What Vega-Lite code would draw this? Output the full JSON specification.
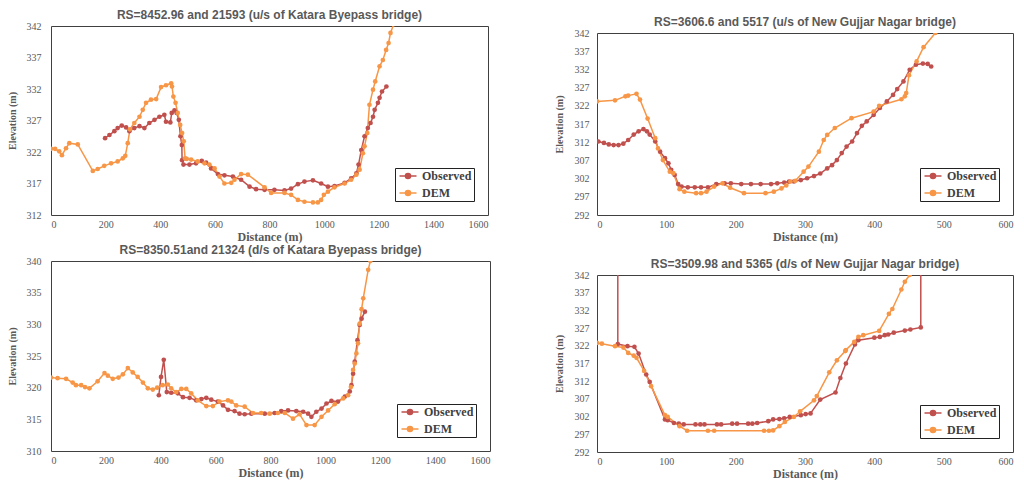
{
  "$schema": "https://vega.github.io/schema/vega-lite/v6.json",
  "background": "white",
  "padding": {"left": 6, "top": 8, "right": 0, "bottom": 0},
  "datasets": {
    "p1": [
      {"d":198,"e":324.2,"s":"Observed"},{"d":214,"e":324.7,"s":"Observed"},{"d":232,"e":325.3,"s":"Observed"},{"d":244,"e":325.8,"s":"Observed"},{"d":259,"e":326.2,"s":"Observed"},{"d":275,"e":325.9,"s":"Observed"},{"d":287,"e":325.3,"s":"Observed"},{"d":305,"e":325.8,"s":"Observed"},{"d":324,"e":326.1,"s":"Observed"},{"d":342,"e":325.8,"s":"Observed"},{"d":360,"e":326.6,"s":"Observed"},{"d":379,"e":327.1,"s":"Observed"},{"d":397,"e":327.6,"s":"Observed"},{"d":415,"e":327.9,"s":"Observed"},{"d":421,"e":326.8,"s":"Observed"},{"d":437,"e":326.7,"s":"Observed"},{"d":442,"e":328.2,"s":"Observed"},{"d":452,"e":328.6,"s":"Observed"},{"d":460,"e":328.2,"s":"Observed"},{"d":468,"e":327.1,"s":"Observed"},{"d":474,"e":324.5,"s":"Observed"},{"d":479,"e":323.1,"s":"Observed"},{"d":480,"e":320.7,"s":"Observed"},{"d":485,"e":320.0,"s":"Observed"},{"d":507,"e":320.0,"s":"Observed"},{"d":531,"e":320.2,"s":"Observed"},{"d":552,"e":320.6,"s":"Observed"},{"d":568,"e":320.3,"s":"Observed"},{"d":586,"e":319.4,"s":"Observed"},{"d":611,"e":318.5,"s":"Observed"},{"d":635,"e":318.3,"s":"Observed"},{"d":666,"e":318.1,"s":"Observed"},{"d":696,"e":317.6,"s":"Observed"},{"d":727,"e":316.5,"s":"Observed"},{"d":751,"e":316.1,"s":"Observed"},{"d":782,"e":316.0,"s":"Observed"},{"d":818,"e":316.0,"s":"Observed"},{"d":855,"e":315.9,"s":"Observed"},{"d":879,"e":316.2,"s":"Observed"},{"d":904,"e":316.9,"s":"Observed"},{"d":928,"e":317.3,"s":"Observed"},{"d":959,"e":317.5,"s":"Observed"},{"d":989,"e":317.0,"s":"Observed"},{"d":1014,"e":316.5,"s":"Observed"},{"d":1038,"e":316.6,"s":"Observed"},{"d":1075,"e":317.1,"s":"Observed"},{"d":1099,"e":317.8,"s":"Observed"},{"d":1118,"e":318.6,"s":"Observed"},{"d":1126,"e":320.0,"s":"Observed"},{"d":1136,"e":322.3,"s":"Observed"},{"d":1148,"e":324.5,"s":"Observed"},{"d":1160,"e":325.8,"s":"Observed"},{"d":1170,"e":326.6,"s":"Observed"},{"d":1179,"e":327.6,"s":"Observed"},{"d":1185,"e":328.7,"s":"Observed"},{"d":1197,"e":329.8,"s":"Observed"},{"d":1203,"e":330.6,"s":"Observed"},{"d":1212,"e":331.6,"s":"Observed"},{"d":1228,"e":332.4,"s":"Observed"},
      {"d":0,"e":322.5,"s":"DEM"},{"d":15,"e":322.5,"s":"DEM"},{"d":30,"e":322.1,"s":"DEM"},{"d":40,"e":321.5,"s":"DEM"},{"d":55,"e":322.6,"s":"DEM"},{"d":67,"e":323.4,"s":"DEM"},{"d":98,"e":323.2,"s":"DEM"},{"d":153,"e":319.0,"s":"DEM"},{"d":171,"e":319.3,"s":"DEM"},{"d":195,"e":319.8,"s":"DEM"},{"d":220,"e":320.2,"s":"DEM"},{"d":244,"e":320.5,"s":"DEM"},{"d":263,"e":321.0,"s":"DEM"},{"d":272,"e":321.4,"s":"DEM"},{"d":281,"e":323.4,"s":"DEM"},{"d":289,"e":325.6,"s":"DEM"},{"d":305,"e":326.6,"s":"DEM"},{"d":324,"e":327.6,"s":"DEM"},{"d":336,"e":328.7,"s":"DEM"},{"d":348,"e":329.8,"s":"DEM"},{"d":366,"e":330.3,"s":"DEM"},{"d":385,"e":330.4,"s":"DEM"},{"d":403,"e":332.3,"s":"DEM"},{"d":421,"e":332.6,"s":"DEM"},{"d":440,"e":332.9,"s":"DEM"},{"d":443,"e":332.4,"s":"DEM"},{"d":448,"e":330.8,"s":"DEM"},{"d":456,"e":329.8,"s":"DEM"},{"d":464,"e":328.2,"s":"DEM"},{"d":473,"e":326.3,"s":"DEM"},{"d":480,"e":325.0,"s":"DEM"},{"d":486,"e":323.7,"s":"DEM"},{"d":491,"e":321.0,"s":"DEM"},{"d":497,"e":320.9,"s":"DEM"},{"d":513,"e":320.8,"s":"DEM"},{"d":537,"e":320.5,"s":"DEM"},{"d":562,"e":320.2,"s":"DEM"},{"d":580,"e":320.0,"s":"DEM"},{"d":599,"e":319.4,"s":"DEM"},{"d":617,"e":318.1,"s":"DEM"},{"d":635,"e":317.0,"s":"DEM"},{"d":660,"e":317.1,"s":"DEM"},{"d":672,"e":317.6,"s":"DEM"},{"d":696,"e":318.5,"s":"DEM"},{"d":721,"e":318.4,"s":"DEM"},{"d":782,"e":316.4,"s":"DEM"},{"d":806,"e":315.5,"s":"DEM"},{"d":855,"e":315.5,"s":"DEM"},{"d":879,"e":315.2,"s":"DEM"},{"d":904,"e":314.4,"s":"DEM"},{"d":928,"e":314.1,"s":"DEM"},{"d":959,"e":314.0,"s":"DEM"},{"d":977,"e":314.0,"s":"DEM"},{"d":989,"e":314.4,"s":"DEM"},{"d":999,"e":315.2,"s":"DEM"},{"d":1014,"e":315.7,"s":"DEM"},{"d":1038,"e":316.4,"s":"DEM"},{"d":1075,"e":317.0,"s":"DEM"},{"d":1099,"e":317.6,"s":"DEM"},{"d":1118,"e":318.4,"s":"DEM"},{"d":1130,"e":319.2,"s":"DEM"},{"d":1142,"e":321.8,"s":"DEM"},{"d":1148,"e":322.9,"s":"DEM"},{"d":1158,"e":325.0,"s":"DEM"},{"d":1166,"e":329.5,"s":"DEM"},{"d":1179,"e":331.9,"s":"DEM"},{"d":1187,"e":333.2,"s":"DEM"},{"d":1203,"e":335.6,"s":"DEM"},{"d":1215,"e":336.6,"s":"DEM"},{"d":1227,"e":338.2,"s":"DEM"},{"d":1236,"e":339.3,"s":"DEM"},{"d":1243,"e":340.9,"s":"DEM"},{"d":1255,"e":342.3,"s":"DEM"}
    ],
    "p2": [
      {"d":2,"e":312.2,"s":"Observed"},{"d":10,"e":311.8,"s":"Observed"},{"d":17,"e":311.4,"s":"Observed"},{"d":24,"e":311.2,"s":"Observed"},{"d":31,"e":311.2,"s":"Observed"},{"d":38,"e":311.6,"s":"Observed"},{"d":45,"e":312.6,"s":"Observed"},{"d":53,"e":314.1,"s":"Observed"},{"d":60,"e":315.0,"s":"Observed"},{"d":67,"e":315.6,"s":"Observed"},{"d":72,"e":315.0,"s":"Observed"},{"d":76,"e":314.1,"s":"Observed"},{"d":84,"e":312.2,"s":"Observed"},{"d":91,"e":309.4,"s":"Observed"},{"d":98,"e":307.6,"s":"Observed"},{"d":103,"e":306.2,"s":"Observed"},{"d":107,"e":304.4,"s":"Observed"},{"d":112,"e":303.0,"s":"Observed"},{"d":117,"e":300.5,"s":"Observed"},{"d":122,"e":299.8,"s":"Observed"},{"d":131,"e":299.6,"s":"Observed"},{"d":141,"e":299.6,"s":"Observed"},{"d":150,"e":299.6,"s":"Observed"},{"d":160,"e":299.6,"s":"Observed"},{"d":172,"e":300.5,"s":"Observed"},{"d":184,"e":300.7,"s":"Observed"},{"d":193,"e":300.7,"s":"Observed"},{"d":208,"e":300.5,"s":"Observed"},{"d":222,"e":300.5,"s":"Observed"},{"d":236,"e":300.5,"s":"Observed"},{"d":251,"e":300.5,"s":"Observed"},{"d":260,"e":300.7,"s":"Observed"},{"d":270,"e":300.9,"s":"Observed"},{"d":277,"e":301.2,"s":"Observed"},{"d":284,"e":301.2,"s":"Observed"},{"d":294,"e":301.6,"s":"Observed"},{"d":303,"e":302.1,"s":"Observed"},{"d":313,"e":302.7,"s":"Observed"},{"d":322,"e":303.4,"s":"Observed"},{"d":332,"e":304.8,"s":"Observed"},{"d":339,"e":305.7,"s":"Observed"},{"d":346,"e":307.1,"s":"Observed"},{"d":353,"e":309.0,"s":"Observed"},{"d":360,"e":310.8,"s":"Observed"},{"d":368,"e":312.2,"s":"Observed"},{"d":375,"e":314.5,"s":"Observed"},{"d":382,"e":316.5,"s":"Observed"},{"d":389,"e":317.7,"s":"Observed"},{"d":399,"e":319.5,"s":"Observed"},{"d":408,"e":321.4,"s":"Observed"},{"d":418,"e":323.2,"s":"Observed"},{"d":427,"e":325.0,"s":"Observed"},{"d":433,"e":326.6,"s":"Observed"},{"d":442,"e":328.7,"s":"Observed"},{"d":451,"e":331.9,"s":"Observed"},{"d":460,"e":333.3,"s":"Observed"},{"d":470,"e":333.6,"s":"Observed"},{"d":477,"e":333.5,"s":"Observed"},{"d":482,"e":332.8,"s":"Observed"},
      {"d":0,"e":323.2,"s":"DEM"},{"d":26,"e":323.5,"s":"DEM"},{"d":41,"e":324.6,"s":"DEM"},{"d":45,"e":324.8,"s":"DEM"},{"d":57,"e":325.3,"s":"DEM"},{"d":62,"e":323.7,"s":"DEM"},{"d":73,"e":318.5,"s":"DEM"},{"d":84,"e":313.1,"s":"DEM"},{"d":88,"e":310.3,"s":"DEM"},{"d":95,"e":307.1,"s":"DEM"},{"d":105,"e":303.9,"s":"DEM"},{"d":110,"e":303.5,"s":"DEM"},{"d":119,"e":299.1,"s":"DEM"},{"d":126,"e":298.4,"s":"DEM"},{"d":143,"e":298.0,"s":"DEM"},{"d":150,"e":298.0,"s":"DEM"},{"d":158,"e":298.4,"s":"DEM"},{"d":169,"e":299.8,"s":"DEM"},{"d":181,"e":300.7,"s":"DEM"},{"d":192,"e":299.5,"s":"DEM"},{"d":212,"e":298.0,"s":"DEM"},{"d":243,"e":298.0,"s":"DEM"},{"d":255,"e":298.4,"s":"DEM"},{"d":266,"e":299.3,"s":"DEM"},{"d":273,"e":300.1,"s":"DEM"},{"d":279,"e":301.2,"s":"DEM"},{"d":286,"e":301.4,"s":"DEM"},{"d":298,"e":303.9,"s":"DEM"},{"d":305,"e":305.3,"s":"DEM"},{"d":320,"e":309.4,"s":"DEM"},{"d":327,"e":312.6,"s":"DEM"},{"d":332,"e":314.0,"s":"DEM"},{"d":343,"e":315.9,"s":"DEM"},{"d":367,"e":318.6,"s":"DEM"},{"d":399,"e":320.4,"s":"DEM"},{"d":407,"e":322.0,"s":"DEM"},{"d":439,"e":323.8,"s":"DEM"},{"d":444,"e":324.6,"s":"DEM"},{"d":446,"e":325.5,"s":"DEM"},{"d":450,"e":330.4,"s":"DEM"},{"d":461,"e":334.2,"s":"DEM"},{"d":471,"e":338.1,"s":"DEM"},{"d":488,"e":342.0,"s":"DEM"}
    ],
    "p3": [
      {"d":393,"e":318.8,"s":"Observed"},{"d":401,"e":321.7,"s":"Observed"},{"d":411,"e":324.4,"s":"Observed"},{"d":422,"e":319.3,"s":"Observed"},{"d":438,"e":319.2,"s":"Observed"},{"d":462,"e":319.1,"s":"Observed"},{"d":481,"e":318.5,"s":"Observed"},{"d":505,"e":318.4,"s":"Observed"},{"d":529,"e":318.0,"s":"Observed"},{"d":548,"e":318.2,"s":"Observed"},{"d":566,"e":318.4,"s":"Observed"},{"d":584,"e":318.1,"s":"Observed"},{"d":608,"e":317.8,"s":"Observed"},{"d":627,"e":317.2,"s":"Observed"},{"d":645,"e":316.5,"s":"Observed"},{"d":669,"e":316.3,"s":"Observed"},{"d":687,"e":315.9,"s":"Observed"},{"d":706,"e":315.8,"s":"Observed"},{"d":730,"e":315.9,"s":"Observed"},{"d":779,"e":315.9,"s":"Observed"},{"d":815,"e":316.0,"s":"Observed"},{"d":839,"e":316.3,"s":"Observed"},{"d":864,"e":316.4,"s":"Observed"},{"d":894,"e":316.3,"s":"Observed"},{"d":919,"e":316.2,"s":"Observed"},{"d":937,"e":315.9,"s":"Observed"},{"d":949,"e":315.4,"s":"Observed"},{"d":967,"e":316.2,"s":"Observed"},{"d":986,"e":316.7,"s":"Observed"},{"d":1004,"e":317.5,"s":"Observed"},{"d":1022,"e":317.9,"s":"Observed"},{"d":1046,"e":317.8,"s":"Observed"},{"d":1071,"e":318.6,"s":"Observed"},{"d":1089,"e":319.4,"s":"Observed"},{"d":1095,"e":320.4,"s":"Observed"},{"d":1101,"e":322.2,"s":"Observed"},{"d":1107,"e":324.1,"s":"Observed"},{"d":1117,"e":327.5,"s":"Observed"},{"d":1125,"e":329.9,"s":"Observed"},{"d":1132,"e":330.9,"s":"Observed"},{"d":1144,"e":332.0,"s":"Observed"},
      {"d":0,"e":321.6,"s":"DEM"},{"d":24,"e":321.5,"s":"DEM"},{"d":55,"e":321.4,"s":"DEM"},{"d":79,"e":320.8,"s":"DEM"},{"d":91,"e":320.4,"s":"DEM"},{"d":110,"e":320.4,"s":"DEM"},{"d":124,"e":320.1,"s":"DEM"},{"d":140,"e":319.9,"s":"DEM"},{"d":170,"e":321.0,"s":"DEM"},{"d":195,"e":322.3,"s":"DEM"},{"d":207,"e":321.9,"s":"DEM"},{"d":225,"e":321.4,"s":"DEM"},{"d":246,"e":321.6,"s":"DEM"},{"d":262,"e":322.1,"s":"DEM"},{"d":280,"e":323.1,"s":"DEM"},{"d":298,"e":322.4,"s":"DEM"},{"d":316,"e":321.7,"s":"DEM"},{"d":335,"e":320.8,"s":"DEM"},{"d":353,"e":319.9,"s":"DEM"},{"d":371,"e":319.7,"s":"DEM"},{"d":387,"e":320.0,"s":"DEM"},{"d":407,"e":320.4,"s":"DEM"},{"d":426,"e":320.5,"s":"DEM"},{"d":438,"e":319.9,"s":"DEM"},{"d":456,"e":319.3,"s":"DEM"},{"d":475,"e":319.8,"s":"DEM"},{"d":493,"e":319.8,"s":"DEM"},{"d":511,"e":319.1,"s":"DEM"},{"d":535,"e":318.0,"s":"DEM"},{"d":566,"e":317.1,"s":"DEM"},{"d":590,"e":317.1,"s":"DEM"},{"d":614,"e":317.8,"s":"DEM"},{"d":645,"e":318.0,"s":"DEM"},{"d":657,"e":317.8,"s":"DEM"},{"d":675,"e":317.2,"s":"DEM"},{"d":706,"e":317.0,"s":"DEM"},{"d":736,"e":316.0,"s":"DEM"},{"d":766,"e":316.0,"s":"DEM"},{"d":797,"e":315.9,"s":"DEM"},{"d":827,"e":316.0,"s":"DEM"},{"d":852,"e":316.0,"s":"DEM"},{"d":882,"e":315.1,"s":"DEM"},{"d":906,"e":315.8,"s":"DEM"},{"d":931,"e":314.1,"s":"DEM"},{"d":961,"e":314.1,"s":"DEM"},{"d":986,"e":315.4,"s":"DEM"},{"d":1010,"e":316.4,"s":"DEM"},{"d":1034,"e":317.4,"s":"DEM"},{"d":1065,"e":318.3,"s":"DEM"},{"d":1083,"e":318.8,"s":"DEM"},{"d":1093,"e":320.1,"s":"DEM"},{"d":1101,"e":322.8,"s":"DEM"},{"d":1107,"e":323.8,"s":"DEM"},{"d":1113,"e":325.4,"s":"DEM"},{"d":1119,"e":327.0,"s":"DEM"},{"d":1125,"e":330.1,"s":"DEM"},{"d":1132,"e":332.4,"s":"DEM"},{"d":1138,"e":334.1,"s":"DEM"},{"d":1156,"e":338.6,"s":"DEM"},{"d":1164,"e":340.0,"s":"DEM"}
    ],
    "p4": [
      {"d":30,"e":352,"s":"Observed"},{"d":30,"e":322.5,"s":"Observed"},{"d":44,"e":321.9,"s":"Observed"},{"d":54,"e":321.7,"s":"Observed"},{"d":60,"e":319.8,"s":"Observed"},{"d":71,"e":313.9,"s":"Observed"},{"d":76,"e":311.8,"s":"Observed"},{"d":98,"e":301.2,"s":"Observed"},{"d":102,"e":301.0,"s":"Observed"},{"d":111,"e":300.2,"s":"Observed"},{"d":118,"e":300.0,"s":"Observed"},{"d":125,"e":299.8,"s":"Observed"},{"d":142,"e":299.8,"s":"Observed"},{"d":149,"e":299.8,"s":"Observed"},{"d":155,"e":299.8,"s":"Observed"},{"d":173,"e":299.8,"s":"Observed"},{"d":179,"e":299.8,"s":"Observed"},{"d":195,"e":300.0,"s":"Observed"},{"d":202,"e":300.0,"s":"Observed"},{"d":218,"e":300.0,"s":"Observed"},{"d":224,"e":300.0,"s":"Observed"},{"d":231,"e":300.2,"s":"Observed"},{"d":247,"e":300.7,"s":"Observed"},{"d":254,"e":301.2,"s":"Observed"},{"d":263,"e":301.3,"s":"Observed"},{"d":270,"e":301.5,"s":"Observed"},{"d":278,"e":301.9,"s":"Observed"},{"d":294,"e":302.4,"s":"Observed"},{"d":301,"e":302.7,"s":"Observed"},{"d":308,"e":302.9,"s":"Observed"},{"d":322,"e":306.8,"s":"Observed"},{"d":344,"e":308.8,"s":"Observed"},{"d":351,"e":312.9,"s":"Observed"},{"d":359,"e":317.0,"s":"Observed"},{"d":372,"e":322.4,"s":"Observed"},{"d":377,"e":323.6,"s":"Observed"},{"d":400,"e":324.3,"s":"Observed"},{"d":408,"e":324.5,"s":"Observed"},{"d":415,"e":325.0,"s":"Observed"},{"d":420,"e":325.2,"s":"Observed"},{"d":428,"e":325.7,"s":"Observed"},{"d":444,"e":326.3,"s":"Observed"},{"d":452,"e":326.6,"s":"Observed"},{"d":467,"e":327.2,"s":"Observed"},{"d":467,"e":352,"s":"Observed"},
      {"d":0,"e":322.8,"s":"DEM"},{"d":7,"e":322.6,"s":"DEM"},{"d":26,"e":321.9,"s":"DEM"},{"d":38,"e":321.5,"s":"DEM"},{"d":45,"e":320.0,"s":"DEM"},{"d":53,"e":319.2,"s":"DEM"},{"d":57,"e":318.6,"s":"DEM"},{"d":68,"e":314.9,"s":"DEM"},{"d":78,"e":310.6,"s":"DEM"},{"d":98,"e":302.4,"s":"DEM"},{"d":102,"e":301.9,"s":"DEM"},{"d":119,"e":299.3,"s":"DEM"},{"d":130,"e":298.0,"s":"DEM"},{"d":160,"e":298.0,"s":"DEM"},{"d":169,"e":298.0,"s":"DEM"},{"d":241,"e":298.0,"s":"DEM"},{"d":248,"e":298.0,"s":"DEM"},{"d":254,"e":298.1,"s":"DEM"},{"d":263,"e":299.3,"s":"DEM"},{"d":271,"e":300.5,"s":"DEM"},{"d":284,"e":301.9,"s":"DEM"},{"d":293,"e":303.5,"s":"DEM"},{"d":313,"e":306.6,"s":"DEM"},{"d":317,"e":307.8,"s":"DEM"},{"d":335,"e":314.5,"s":"DEM"},{"d":346,"e":317.9,"s":"DEM"},{"d":358,"e":320.5,"s":"DEM"},{"d":359,"e":320.8,"s":"DEM"},{"d":371,"e":323.1,"s":"DEM"},{"d":377,"e":324.5,"s":"DEM"},{"d":384,"e":325.0,"s":"DEM"},{"d":407,"e":326.2,"s":"DEM"},{"d":421,"e":331.0,"s":"DEM"},{"d":426,"e":332.4,"s":"DEM"},{"d":439,"e":337.9,"s":"DEM"},{"d":444,"e":340.1,"s":"DEM"},{"d":451,"e":342.0,"s":"DEM"},{"d":458,"e":344.0,"s":"DEM"}
    ]
  },
  "config": {
    "font": "Liberation Serif",
    "view": {"stroke": "#404040", "strokeWidth": 1},
    "axis": {"domain": false, "ticks": false, "grid": false, "labelFont": "Liberation Serif", "labelFontSize": 10, "labelColor": "#595959", "titleFont": "Liberation Serif", "titleFontWeight": "bold", "titleColor": "#595959"},
    "axisX": {"titleFontSize": 12, "labelPadding": 4, "titlePadding": 2, "format": "d"},
    "axisY": {"titleFontSize": 10},
    "title": {"font": "Liberation Sans", "fontSize": 12, "fontWeight": "bold", "color": "#595959", "offset": -1},
    "legend": {"orient": "bottom-right", "offset": 14, "strokeColor": "#222222", "fillColor": "white", "padding": 2, "titleOrient": "left", "titlePadding": 5, "titleFontSize": 12, "titleFont": "Liberation Serif", "labelFont": "Liberation Serif", "labelFontWeight": "bold", "labelFontSize": 12, "labelColor": "#404040", "symbolType": "M-2,0H-0.6M0.6,0H2M-0.6,0A0.6,0.6,0,1,0,0.6,0A0.6,0.6,0,1,0,-0.6,0Z", "symbolSize": 72.25, "symbolStrokeWidth": 1.5, "rowPadding": 5, "labelOffset": 8, "labelExpr": "datum.label + '\u00a0\u00a0'"}
  },
  "resolve": {"scale": {"color": "independent"}, "legend": {"color": "independent"}},
  "spacing": 62,
  "hconcat": [
    {
      "bounds": "flush",
      "spacing": 46,
      "resolve": {"scale": {"color": "independent"}, "legend": {"color": "independent"}},
      "vconcat": [
        {
          "width": 437, "height": 189,
          "title": "RS=8452.96 and 21593 (u/s of Katara Byepass bridge)",
          "data": {"name": "p1"},
          "mark": {"type": "line", "point": {"filled": true, "size": 22}, "strokeWidth": 1.5, "clip": true},
          "encoding": {
            "x": {"field": "d", "type": "quantitative", "scale": {"domain": [0, 1600], "nice": false}, "axis": {"values": [0,200,400,600,800,1000,1200,1400,1600], "title": "Distance (m)"}},
            "y": {"field": "e", "type": "quantitative", "scale": {"domain": [312, 342], "nice": false, "zero": false}, "axis": {"values": [312,317,322,327,332,337,342], "title": "Elevation (m)", "labelPadding": 10, "titlePadding": 9}},
            "color": {"field": "s", "type": "nominal", "scale": {"domain": ["Observed", "DEM"], "range": ["#C0504D", "#F79646"]}, "legend": {"title": "\u00a0\u00a0", "encode": {"symbols": {"update": {"fill": {"scale": "color", "field": "value"}}}}}},
            "order": {"value": null}
          }
        },
        {
          "width": 439, "height": 190,
          "title": "RS=8350.51and 21324 (d/s of Katara Byepass bridge)",
          "data": {"name": "p3"},
          "mark": {"type": "line", "point": {"filled": true, "size": 22}, "strokeWidth": 1.5, "clip": true},
          "encoding": {
            "x": {"field": "d", "type": "quantitative", "scale": {"domain": [0, 1600], "nice": false}, "axis": {"values": [0,200,400,600,800,1000,1200,1400,1600], "title": "Distance (m)"}},
            "y": {"field": "e", "type": "quantitative", "scale": {"domain": [310, 340], "nice": false, "zero": false}, "axis": {"values": [310,315,320,325,330,335,340], "title": "Elevation (m)", "labelPadding": 10, "titlePadding": 9}},
            "color": {"field": "s", "type": "nominal", "scale": {"domain": ["Observed", "DEM"], "range": ["#C0504D", "#F79646"]}, "legend": {"title": "\u00a0\u00a0", "encode": {"symbols": {"update": {"fill": {"scale": "color", "field": "value"}}}}}},
            "order": {"value": null}
          }
        }
      ]
    },
    {
      "bounds": "flush",
      "spacing": 6,
      "resolve": {"scale": {"color": "independent"}, "legend": {"color": "independent"}},
      "vconcat": [
        {
          "width": 416, "height": 1,
          "view": {"stroke": null},
          "data": {"values": [{"k": 1}]},
          "mark": {"type": "point", "opacity": 0},
          "encoding": {}
        },
        {
          "bounds": "flush",
          "spacing": 60,
          "resolve": {"scale": {"color": "independent"}, "legend": {"color": "independent"}},
          "vconcat": [
            {
              "width": 416, "height": 182,
              "title": "RS=3606.6 and 5517 (u/s of New Gujjar Nagar bridge)",
              "data": {"name": "p2"},
              "mark": {"type": "line", "point": {"filled": true, "size": 22}, "strokeWidth": 1.5, "clip": true},
              "encoding": {
                "x": {"field": "d", "type": "quantitative", "scale": {"domain": [0, 600], "nice": false}, "axis": {"values": [0,100,200,300,400,500,600], "title": "Distance (m)"}},
                "y": {"field": "e", "type": "quantitative", "scale": {"domain": [292, 342], "nice": false, "zero": false}, "axis": {"values": [292,297,302,307,312,317,322,327,332,337,342], "title": "Elevation (m)", "labelPadding": 8, "titlePadding": 10}},
                "color": {"field": "s", "type": "nominal", "scale": {"domain": ["Observed", "DEM"], "range": ["#C0504D", "#F79646"]}, "legend": {"title": "\u00a0\u00a0", "encode": {"symbols": {"update": {"fill": {"scale": "color", "field": "value"}}}}}},
                "order": {"value": null}
              }
            },
            {
              "width": 416, "height": 177,
              "title": "RS=3509.98 and 5365 (d/s of New Gujjar Nagar bridge)",
              "data": {"name": "p4"},
              "mark": {"type": "line", "point": {"filled": true, "size": 22}, "strokeWidth": 1.5, "clip": true},
              "encoding": {
                "x": {"field": "d", "type": "quantitative", "scale": {"domain": [0, 600], "nice": false}, "axis": {"values": [0,100,200,300,400,500,600], "title": "Distance (m)"}},
                "y": {"field": "e", "type": "quantitative", "scale": {"domain": [292, 342], "nice": false, "zero": false}, "axis": {"values": [292,297,302,307,312,317,322,327,332,337,342], "title": "Elevation (m)", "labelPadding": 8, "titlePadding": 10}},
                "color": {"field": "s", "type": "nominal", "scale": {"domain": ["Observed", "DEM"], "range": ["#C0504D", "#F79646"]}, "legend": {"title": "\u00a0\u00a0", "encode": {"symbols": {"update": {"fill": {"scale": "color", "field": "value"}}}}}},
                "order": {"value": null}
              }
            }
          ]
        }
      ]
    }
  ]
}
